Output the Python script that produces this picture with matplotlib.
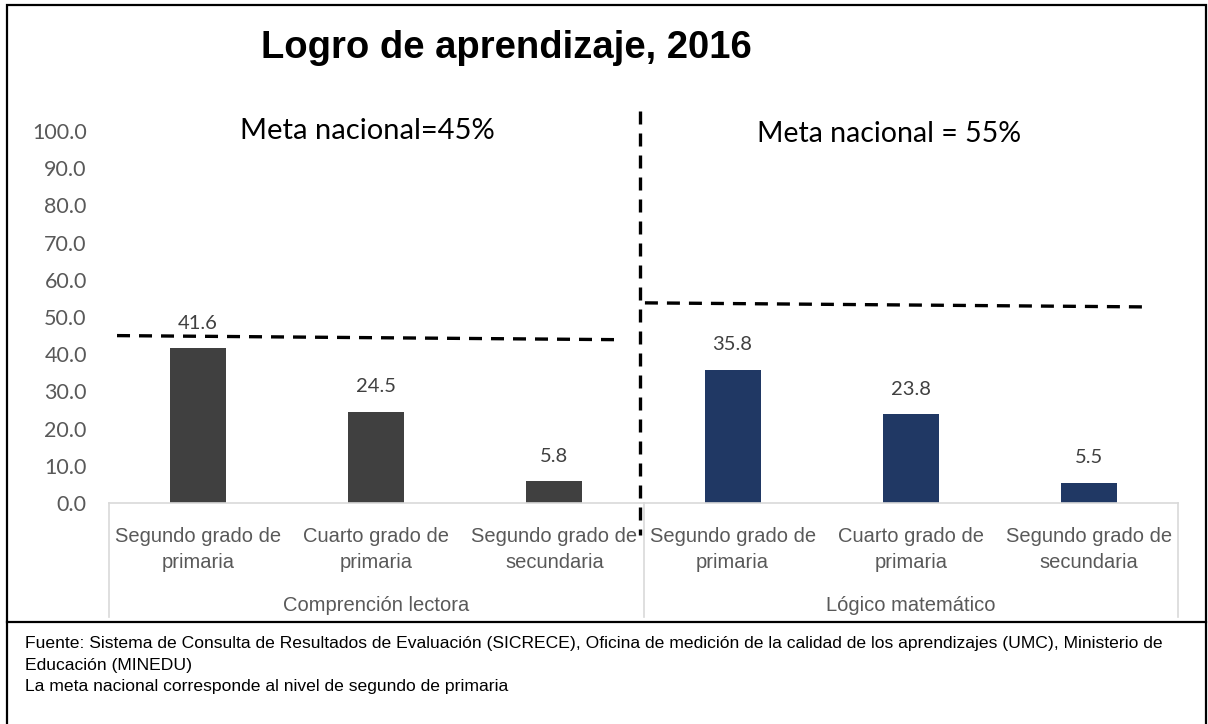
import matplotlib
matplotlib.use("Agg")
import matplotlib.pyplot as plt
from matplotlib.lines import Line2D
from matplotlib.patches import Rectangle
import matplotlib.transforms as mtransforms

# data
categories = ["Segundo grado de\nprimaria", "Cuarto grado de\nprimaria", "Segundo grado de\nsecundaria"]
groups = ["Comprención lectora", "Lógico matemático"]
lectora = [41.6, 24.5, 5.8]
matematico = [35.8, 23.8, 5.5]
meta_text = ["Meta nacional=45%", "Meta nacional = 55%"]
# drawn goal lines (start level, end level) as they appear
meta_left = (45.0, 43.9)
meta_right = (53.8, 52.7)
yticks = [0, 10, 20, 30, 40, 50, 60, 70, 80, 90, 100]

title = "Logro de aprendizaje, 2016"
footer = ("Fuente: Sistema de Consulta de Resultados de Evaluación (SICRECE), Oficina de medición de la calidad de los aprendizajes (UMC), Ministerio de\n"
          "Educación (MINEDU)\n"
          "La meta nacional corresponde al nivel de segundo de primaria")

sans = "Liberation Sans"
calib = "Lato"

W, H = 1208, 724
fig = plt.figure(figsize=(W / 100, H / 100), dpi=100)

def fx(px):
    return px / W

def fy(py):
    return 1 - py / H

ax = fig.add_axes([fx(109), fy(503), fx(1178) - fx(109), fy(131) - fy(503)])

values = lectora + matematico
colors = ["#404040"] * 3 + ["#203864"] * 3
xs = list(range(len(values)))
ax.bar(xs, values, width=0.315, color=colors, zorder=2)
for x, v in zip(xs, values):
    ax.annotate(f"{v:.1f}", (x, v), xytext=(0, 18), textcoords="offset points",
                ha="center", va="center", fontsize=14.5, color="#404040", family=calib)

ax.set_xlim(-0.5, 5.5)
ax.set_ylim(0, 100)
ax.set_yticks(yticks)
ax.set_yticklabels([f"{t:.1f}" for t in yticks], family=calib, fontsize=15.5, color="#595959")
ax.set_xticks(xs)
ax.set_xticklabels(categories * 2, family=sans, fontsize=14.5, color="#595959", linespacing=1.5)
ax.tick_params(axis="both", length=0)
ax.tick_params(axis="y", pad=16)
ax.tick_params(axis="x", pad=17)
for s in ["top", "right", "left"]:
    ax.spines[s].set_visible(False)
ax.spines["bottom"].set_color("#d9d9d9")
ax.spines["bottom"].set_linewidth(1.2)

# category box lines
trans = mtransforms.blended_transform_factory(ax.transData, ax.transAxes)
for xb in [-0.5, 2.5, 5.5]:
    ax.add_line(Line2D([xb, xb], [0, -0.306], transform=trans, color="#d9d9d9",
                       lw=1.2, clip_on=False))
for i, g in enumerate(groups):
    ax.text(1 + 3 * i, -0.276, g, transform=trans, ha="center", va="center",
            family=sans, fontsize=14.5, color="#595959")

# goal lines and divider
dash = dict(color="black", lw=2.4, linestyle=(0, (3.9, 2.7)), clip_on=False,
            solid_capstyle="butt", dash_capstyle="butt", zorder=3)
ax.plot([-0.455, 2.368], meta_left, **dash)
ax.plot([2.508, 5.347], meta_right, **dash)
ax.plot([2.48, 2.48], [105.4, -8.6], **dash)

ax.text(0.95, 100, meta_text[0], ha="center", va="center", fontsize=21, family=calib, color="black")
ax.text(3.88, 99.2, meta_text[1], ha="center", va="center", fontsize=20.5, family=calib, color="black")

fig.text(fx(506), fy(48), title, ha="center", va="center", fontsize=27.5,
         fontweight="bold", family=sans, color="black")

# frame and footer
fig.add_artist(Rectangle((fx(7), fy(740)), fx(1206) - fx(7), fy(5) - fy(740),
                         transform=fig.transFigure, fill=False, ec="black", lw=1.6))
fig.add_artist(Line2D([fx(7), fx(1206)], [fy(622), fy(622)], transform=fig.transFigure,
                      color="black", lw=1.6))
fig.text(fx(25), fy(636), footer, ha="left", va="top", fontsize=12.6,
         family=sans, color="black", linespacing=1.55)

fig.savefig("out.png", dpi=100)
